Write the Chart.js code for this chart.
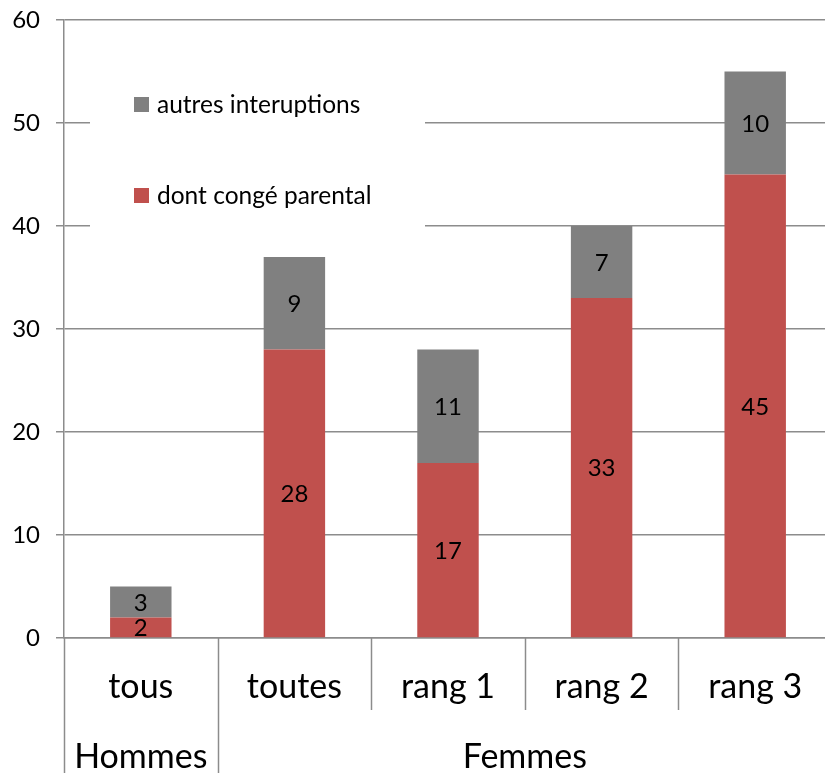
<!DOCTYPE html>
<html>
<head>
<meta charset="utf-8">
<script src="https://cdn.jsdelivr.net/npm/chart.js@4.4.0/dist/chart.umd.min.js"></script>
<style>
  html, body { margin: 0; padding: 0; overflow: hidden; background: #fff; }
  #wrap { width: 832px; height: 773px; }
</style>
</head>
<body>
<div id="wrap"><canvas id="myChart" width="832" height="773"></canvas></div>
<script>
const categories = ['tous', 'toutes', 'rang 1', 'rang 2', 'rang 3'];
const groupLabels = ['Hommes', 'Femmes'];
const groupSpans = [1, 4];
const parental = [2, 28, 17, 33, 45];
const autres = [3, 9, 11, 7, 10];
const yTicks = [0, 10, 20, 30, 40, 50, 60];

const red = '#C0504D';
const grey = '#808080';
const lineCol = '#8c8c8c';
const font = 'Lato, "Open Sans", sans-serif';

// valeurs au centre de chaque segment
const valueLabels = {
    id: 'valueLabels',
    afterDatasetsDraw(chart) {
        const ctx = chart.ctx;
        ctx.save();
        ctx.font = '24px ' + font;
        ctx.fillStyle = '#000';
        ctx.textAlign = 'center';
        ctx.textBaseline = 'middle';
        chart.data.datasets.forEach((ds, i) => {
            chart.getDatasetMeta(i).data.forEach((bar, j) => {
                ctx.fillText(ds.data[j], bar.x, (bar.y + bar.base) / 2 + 1);
            });
        });
        ctx.restore();
    }
};

// axe des catégories à deux niveaux
const groupAxis = {
    id: 'groupAxis',
    afterDraw(chart) {
        const ctx = chart.ctx;
        const x = chart.scales.x;
        const top = chart.chartArea.bottom;
        const w = x.getPixelForValue(1) - x.getPixelForValue(0);
        const edge = i => x.getPixelForValue(i) - w / 2;
        const groupEdges = [0];
        groupSpans.forEach(s => groupEdges.push(groupEdges[groupEdges.length - 1] + s));

        ctx.save();
        ctx.strokeStyle = lineCol;
        ctx.lineWidth = 1.5;
        for (let i = 0; i <= categories.length; i++) {
            const px = Math.round(edge(i)) + 0.5;
            const end = groupEdges.includes(i) ? chart.height : top + 72;
            ctx.beginPath();
            ctx.moveTo(px, top);
            ctx.lineTo(px, end);
            ctx.stroke();
        }

        ctx.fillStyle = '#000';
        ctx.textAlign = 'center';
        ctx.textBaseline = 'middle';
        ctx.font = '34px ' + font;
        categories.forEach((c, i) => ctx.fillText(c, x.getPixelForValue(i), top + 49));
        groupLabels.forEach((g, k) => {
            const cx = (edge(groupEdges[k]) + edge(groupEdges[k + 1])) / 2;
            ctx.fillText(g, cx, top + 119);
        });
        ctx.restore();
    }
};

// légende dans la zone du graphique, sur fond blanc
const insideLegend = {
    id: 'insideLegend',
    afterDraw(chart) {
        const ctx = chart.ctx;
        ctx.save();
        ctx.fillStyle = '#fff';
        ctx.fillRect(90, 32, 335, 206);
        ctx.font = '24.5px ' + font;
        ctx.textBaseline = 'middle';
        const order = [1, 0];
        order.forEach((d, k) => {
            const ds = chart.data.datasets[d];
            const cy = 104 + k * 91;
            ctx.fillStyle = ds.backgroundColor;
            ctx.fillRect(134, cy - 7, 15, 15);
            ctx.fillStyle = '#000';
            ctx.fillText(ds.label, 157, cy + 1);
        });
        ctx.restore();
    }
};

const data = {
    labels: categories,
    datasets: [
        {
            label: 'dont congé parental',
            data: parental,
            backgroundColor: red,
            categoryPercentage: 1,
            barPercentage: 0.4,
        },
        {
            label: 'autres interuptions',
            data: autres,
            backgroundColor: grey,
            categoryPercentage: 1,
            barPercentage: 0.4,
        }
    ],
};

const config = {
    type: 'bar',
    data: data,
    options: {
        responsive: false,
        animation: false,
        devicePixelRatio: 1,
        layout: { padding: { top: 20, right: 0, left: 0, bottom: 0 } },
        plugins: {
            legend: { display: false },
            tooltip: { enabled: false },
        },
        scales: {
            x: {
                stacked: true,
                grid: { display: false },
                ticks: { display: false },
                border: { display: true, color: lineCol, width: 1.5 },
                afterFit: (scale) => { scale.height = 135; },
            },
            y: {
                stacked: true,
                min: 0,
                max: 60,
                afterBuildTicks: (scale) => { scale.ticks = yTicks.map(v => ({ value: v })); },
                grid: { color: lineCol, lineWidth: 1.5, tickLength: 8 },
                border: { display: true, color: lineCol, width: 1.5 },
                ticks: {
                    color: '#000',
                    padding: 16,
                    font: { family: font, size: 24 },
                },
                afterFit: (scale) => {
                    scale.width = 64;
                    scale.paddingTop = 0;
                    scale.paddingBottom = 0;
                },
            }
        }
    },
    plugins: [valueLabels, groupAxis, insideLegend],
};

const myChart = new Chart(document.getElementById('myChart').getContext('2d'), config);
</script>
</body>
</html>
